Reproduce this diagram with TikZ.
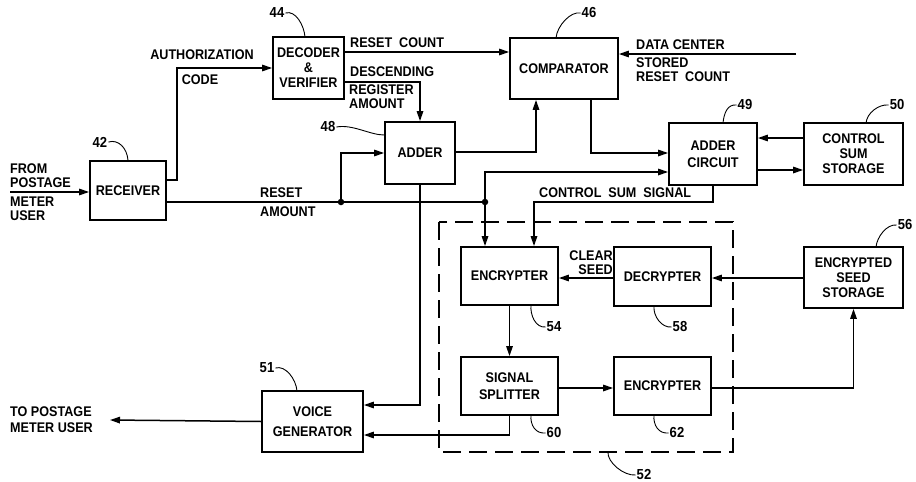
\documentclass[tikz,border=0pt]{standalone}
\usepackage{fontspec}
\setmainfont{Liberation Sans}[FakeStretch=0.9]
\usetikzlibrary{arrows.meta, positioning}

\begin{document}
\begin{tikzpicture}[x=1pt, y=-1pt]
% Looks of the blocks, texts and lines
\tikzstyle{block} = [rectangle, draw=black, line width=1.8pt, align=center, inner sep=2pt, font=\fontsize{14}{17}\selectfont\bfseries]
\tikzstyle{tag} = [inner sep=0pt, align=left, font=\fontsize{14}{14}\selectfont\bfseries]
\tikzstyle{num} = [inner sep=1pt, font=\fontsize{14.5}{14.5}\selectfont\bfseries]
\tikzstyle{arrow} = [line width=1.5pt, -{Triangle[length=10pt,width=6.5pt]}]
\tikzstyle{wire} = [line width=1.5pt]
\tikzstyle{lead} = [line width=0.9pt]
\tikzstyle{dot} = [circle, fill=black, inner sep=0pt, minimum size=6.5pt]
\useasboundingbox (0,0) rectangle (916,482);

% Start initiating blocks
\node (receiver) [block, minimum width=76pt, minimum height=59pt] at (128,190.5) {RECEIVER};
\node (decoder) [block, minimum width=71pt, minimum height=62pt, font=\fontsize{14}{15}\selectfont\bfseries] at (308.5,68) {DECODER\\\&\\VERIFIER};
\node (comparator) [block, minimum width=108pt, minimum height=61pt] at (564,68.5) {COMPARATOR};
\node (adder) [block, minimum width=70pt, minimum height=62pt] at (420,153) {ADDER};
\node (addercirc) [block, minimum width=88pt, minimum height=62pt] at (713,154) {ADDER\\CIRCUIT};
\node (csstore) [block, minimum width=99pt, minimum height=62pt, font=\fontsize{14}{15}\selectfont\bfseries] at (853.5,154) {CONTROL\\SUM\\STORAGE};
\node (encr1) [block, minimum width=97pt, minimum height=58pt] at (509.5,276) {ENCRYPTER};
\node (decr) [block, minimum width=97pt, minimum height=59pt] at (662.5,276.5) {DECRYPTER};
\node (ess) [block, minimum width=99pt, minimum height=61pt, font=\fontsize{14}{15}\selectfont\bfseries] at (853.5,277.5) {ENCRYPTED\\SEED\\STORAGE};
\node (splitter) [block, minimum width=97pt, minimum height=58pt] at (509.5,386) {SIGNAL\\SPLITTER};
\node (encr2) [block, minimum width=97pt, minimum height=58pt] at (662.5,386) {ENCRYPTER};
\node (voice) [block, minimum width=101pt, minimum height=61pt, font=\fontsize{14}{20}\selectfont\bfseries] at (312.5,421.5) {VOICE\\GENERATOR};

% Reference numbers
\node (n42) [num] at (100,142) {42};
\node (n44) [num] at (277,13) {44};
\node (n46) [num] at (589,13) {46};
\node (n48) [num] at (328,127) {48};
\node (n49) [num] at (745,105) {49};
\node (n50) [num] at (897,105) {50};
\node (n51) [num] at (267,368) {51};
\node (n52) [num] at (644,475) {52};
\node (n54) [num] at (554,327) {54};
\node (n56) [num] at (905,225) {56};
\node (n58) [num] at (680,327) {58};
\node (n60) [num] at (554,433) {60};
\node (n62) [num] at (677,433) {62};

% Free ends and junctions
\coordinate (fromin) at (10,192);
\coordinate (toout) at (110,420);
\coordinate (dcin) at (796,54);
\coordinate (j1) at (341,202);
\coordinate (j2) at (485,202);

% Texts on the lines
\node (fromtxt) [tag, anchor=south west] at (10,188) {FROM\\POSTAGE};
\node (metertxt) [tag, anchor=north west] at (10,197) {METER\\USER};
\node (authtxt) [tag] at (202,55) {AUTHORIZATION};
\node (codetxt) [tag] at (200,80) {CODE};
\node (resettxt) [tag, anchor=west] at (260,193) {RESET};
\node (amounttxt) [tag, anchor=west] at (260,212) {AMOUNT};
\node (counttxt) [tag, anchor=west] at (350,43) {RESET\ \ COUNT};
\node (desctxt) [tag, anchor=west] at (350,72) {DESCENDING};
\node (regtxt) [tag, anchor=north west] at (349,85) {REGISTER\\AMOUNT};
\node (dctxt) [tag, anchor=west] at (636,45) {DATA CENTER};
\node (storedtxt) [tag, anchor=north west] at (636,58) {STORED\\RESET\ \ COUNT};
\node (cstxt) [tag, anchor=west] at (539,193) {CONTROL\ \ SUM\ \ SIGNAL};
\node (seedtxt) [tag, anchor=east, align=right] at (613,263) {CLEAR\\SEED};
\node (totxt) [tag, anchor=west, font=\fontsize{14}{16}\selectfont\bfseries] at (10,420) {TO POSTAGE\\METER USER};

% Draw arrows for connection
\draw [arrow] (fromin) -- (receiver.west |- fromin);
\draw [arrow] (receiver.east |- 0,180) -- (177,180) |- (decoder.west);
\draw [wire] (receiver.east |- j1) -- (j2);
\draw [arrow] (j1) |- (adder.west);
\draw [arrow] (j2) |- (addercirc.west |- 0,172);
\draw [arrow] (j2) -- (j2 |- encr1.north);
\draw [arrow] (decoder.east |- 0,52) -- (comparator.west |- 0,52);
\draw [arrow] (decoder.east |- 0,82) -| (adder.north);
\draw [arrow] (adder.east |- 0,152) -| (536,0 |- comparator.south);
\draw [arrow] (adder.south) |- (voice.east |- 0,405);
\draw [arrow] (dcin) -- (comparator.east |- dcin);
\draw [arrow] (comparator.south -| 591,0) |- (addercirc.west |- 0,153);
\draw [arrow] (csstore.west |- 0,138) -- (addercirc.east |- 0,138);
\draw [arrow] (addercirc.east |- 0,170) -- (csstore.west |- 0,170);
\draw [arrow] (addercirc.south) |- (534,202) -- (534,0 |- encr1.north);
\draw [arrow] (decr.west |- 0,278) -- (encr1.east |- 0,278);
\draw [arrow] (ess.west |- 0,278) -- (decr.east |- 0,278);
\draw [arrow] (encr1.south) -- (splitter.north);
\draw [arrow] (splitter.east |- 0,388) -- (encr2.west |- 0,388);
\draw [arrow] (encr2.east |- 0,388) -| (ess.south);
\draw [arrow] (splitter.south) |- (voice.east |- 0,435);
\draw [arrow] (voice.west) -- (toout);
\node [dot] at (j1) {};
\node [dot] at (j2) {};

% Dashed outline of 52
\draw [line width=1.5pt, dash pattern=on 18pt off 8pt] (439,222) rectangle (733,452);

% Leaders from the numbers
\draw [lead] (n42.east) .. controls +(10,-3) and +(-1,-12) .. (receiver.north);
\draw [lead] (n44.east) .. controls +(10,-3) and +(-1,-12) .. (305,37);
\draw [lead] (n46.west) .. controls +(-10,-2) and +(1,-12) .. (556,38);
\draw [lead] (n48.east) .. controls +(16,-3) and +(-14,0) .. (adder.west |- 0,135);
\draw [lead] (n49.west) .. controls +(-9,-1) and +(1,-10) .. (723,123);
\draw [lead] (n50.west) .. controls +(-10,-1) and +(1,-10) .. (866,123);
\draw [lead] (n51.east) .. controls +(10,-3) and +(-1,-12) .. (297,391);
\draw [lead] (n52.west) .. controls +(-12,1) and +(-1,10) .. (608,452);
\draw [lead] (n54.west) .. controls +(-10,1) and +(-1,10) .. (531,305);
\draw [lead] (n58.west) .. controls +(-10,1) and +(-1,10) .. (654,306);
\draw [lead] (n60.west) .. controls +(-10,1) and +(-1,10) .. (531,415);
\draw [lead] (n62.west) .. controls +(-10,1) and +(-1,10) .. (654,415);
\draw [lead] (n56.west) .. controls +(-10,-1) and +(1,-10) .. (876,247);
\end{tikzpicture}
\end{document}
